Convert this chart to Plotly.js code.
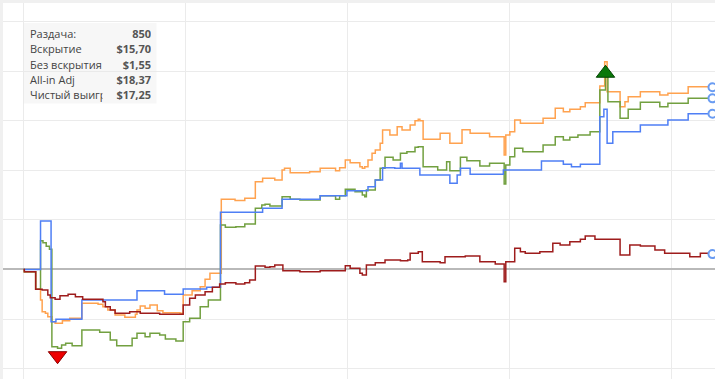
<!DOCTYPE html>
<html><head><meta charset="utf-8">
<script src="https://cdn.plot.ly/plotly-3.0.1.min.js"></script>
<style>html,body{margin:0;padding:0;background:#fff;overflow:hidden}#chart{width:715px;height:379px}</style>
</head><body><div id="chart"></div>
<script>
// ---- data (hand number, cumulative $) ----
const allinHands = [0,1,15,21,23,27,30,35,39,48,57,72,92,98,104,113,125,138,140,144,150,156,165,172,193,197,208,218,224,230,244,261,273,286,295,310,319,322,329,353,366,385,390,397,403,415,418,421,425,430,434,440,443,452,461,467,477,483,487,489,493,514,526,541,551,575,593,595,600,606,613,641,656,666,674,687,693,711,717,720,736,742,746,761,785,795,820,850];
const allinValues = [0,-0.22,-2.0,-3.07,-4.25,-4.42,-4.76,-5.26,-5.42,-5.16,-4.92,-3.41,-3.51,-3.75,-4.08,-4.59,-4.82,-4.52,-4.08,-3.68,-3.91,-3.58,-4.15,-4.35,-4.42,-2.57,-2.14,-1.73,-0.99,-0.38,7.08,6.94,7.18,8.85,9.19,9.02,10.03,10.20,9.76,9.86,10.20,9.96,10.26,11.04,10.77,10.36,10.20,10.36,11.04,11.71,12.05,12.72,14.06,13.56,14.39,14.06,14.57,15.00,15.14,15.00,13.13,13.73,12.72,14.08,13.73,13.39,11.54,13.56,13.89,15.07,14.74,15.24,16.25,15.91,16.15,16.41,16.81,18.50,20.95,17.92,16.41,16.91,17.42,17.92,17.59,17.76,18.43,18.37];

const netHands = [0,1,15,21,24,28,32,35,42,47,52,60,72,94,107,115,134,140,150,156,168,175,188,197,205,218,228,243,249,262,273,286,294,298,304,319,329,341,366,385,390,397,409,418,421,423,434,440,446,456,465,473,483,487,493,511,522,526,539,547,563,575,593,595,600,606,616,641,656,666,674,684,699,711,718,721,736,746,761,785,795,820,850];
const netValues = [0,-0.22,-2.0,2.90,2.70,2.35,2.04,-7.78,-7.94,-7.61,-7.44,-7.68,-6.10,-6.33,-7.11,-7.68,-6.94,-6.43,-6.77,-6.43,-6.60,-7.01,-7.21,-5.26,-4.92,-3.75,-3.07,4.49,4.25,4.31,4.59,6.17,6.50,6.57,6.40,7.34,7.08,7.01,7.44,7.08,7.44,8.08,7.84,7.51,7.34,8.01,9.02,10.20,11.31,11.04,11.71,11.87,12.32,12.38,10.36,10.03,10.87,9.96,11.31,10.97,10.43,10.70,8.62,10.53,11.37,12.22,11.87,12.55,13.39,13.05,13.33,13.56,13.89,18.09,19.43,16.91,15.24,16.15,16.85,16.41,16.75,17.25,17.25];

const sdHands = [0,20,21,34,40,72,140,174,197,226,243,295,319,366,399,425,434,443,458,465,467,489,526,535,539,551,592,639,666,676,687,711,716,720,727,761,795,820,850];
const sdValues = [0,0,4.89,-5.26,-5.02,-3.07,-2.14,-2.50,-1.97,-1.79,5.77,6.17,7.08,7.44,7.94,8.35,9.02,10.26,10.20,10.70,10.20,9.53,8.69,9.53,10.20,9.60,10.03,10.94,10.60,10.36,10.60,15.40,16.15,12.72,13.89,14.57,15.07,15.70,15.70];

const nsdHands = [0,1,15,23,30,33,39,45,55,64,73,98,101,107,113,131,144,168,197,205,212,224,233,242,249,262,273,279,286,298,304,310,320,341,366,397,403,415,418,423,434,446,465,474,477,487,492,514,520,545,563,582,593,595,606,613,619,637,653,662,674,687,693,705,723,736,748,761,779,791,822,835,850];
const nsdValues = [0,-0.22,-2.0,-2.07,-2.57,-2.84,-3.0,-2.64,-2.50,-2.74,-3.0,-3.25,-3.75,-4.08,-4.42,-4.25,-4.42,-4.52,-3.58,-2.90,-2.57,-2.24,-1.79,-1.46,-1.33,-1.46,-1.33,-1.06,0.35,0.22,0.28,0.45,-0.12,-0.22,-0.12,0.38,0.12,-0.38,-0.55,0.45,0.69,0.96,0.89,0.96,1.63,1.79,0.79,0.69,1.29,1.36,0.79,0.55,-1.23,0.79,2.14,1.79,1.63,1.79,2.64,2.47,2.80,3.04,3.38,3.04,3.04,1.46,2.47,2.37,1.97,1.63,1.29,1.63,1.55];

const statLabels = ["Раздача:", "Вскрытие", "Без вскрытия", "All-in Adj", "Чистый выигрыш"];
const statValues = ["850", "$15,70", "$1,55", "$18,37", "$17,25"];

// ---- drawing ----
const W = 715, H = 379, ML = 3, MT = 3;
const PW = W - ML, PH = H - MT;
const px = p => (p - ML) / PW;          // pixel x -> paper
const py = p => (H - p) / PH;           // pixel y -> paper

function line(x, y, color) {
  return {x, y, type: 'scatter', mode: 'lines', line: {color, width: 1.5, shape: 'hv'}, hoverinfo: 'skip'};
}
const traces = [
  line(allinHands, allinValues, '#ffa24f'),
  line(netHands, netValues, '#72a040'),
  line(sdHands, sdValues, '#4f7ff5'),
  line(nsdHands, nsdValues, '#9e1c1c')
];

// end markers
const series = [[allinHands, allinValues],[netHands, netValues],[sdHands, sdValues],[nsdHands, nsdValues]];
traces.push({
  x: series.map(s => s[0][s[0].length-1]),
  y: series.map(s => s[1][s[1].length-1]),
  type: 'scatter', mode: 'markers', cliponaxis: false, hoverinfo: 'skip',
  marker: {symbol: 'circle', size: 8, color: '#ffffff', line: {color: '#6a9cf2', width: 2}}
});

// min / max of net result
let iMin = 0, iMax = 0;
netValues.forEach((v, i) => { if (v < netValues[iMin]) iMin = i; if (v > netValues[iMax]) iMax = i; });
const DOWN_GAP = 0.75, UP_GAP = 0.35;
traces.push({
  x: [netHands[iMin]], y: [netValues[iMin] - DOWN_GAP], type: 'scatter', mode: 'markers', cliponaxis: false, hoverinfo: 'skip',
  marker: {symbol: 'triangle-down', size: 16, color: '#ee0000', line: {color: '#8a0000', width: 1}}
});
traces.push({
  x: [netHands[iMax]], y: [netValues[iMax] + UP_GAP], type: 'scatter', mode: 'markers', cliponaxis: false, hoverinfo: 'skip',
  marker: {symbol: 'triangle-up', size: 16, color: '#0a780a', line: {color: '#044404', width: 1}}
});

// stats box
const rowY = [33.5, 48.8, 64.1, 79.4, 94.7];
const annotations = [];
statLabels.forEach((t, i) => annotations.push({
  xref: 'paper', yref: 'paper', x: px(28), y: py(rowY[i]), xanchor: 'left', yanchor: 'middle',
  text: t, showarrow: false, font: {family: 'Open Sans, Noto Sans, sans-serif', size: 11, color: '#444'}
}));
statValues.forEach((t, i) => annotations.push({
  xref: 'paper', yref: 'paper', x: px(152), y: py(rowY[i]), xanchor: 'right', yanchor: 'middle', align: 'right',
  text: '<b>' + t + '</b>', showarrow: false, width: 48, borderpad: 0,
  bgcolor: i === statValues.length - 1 ? '#f7f7f7' : 'rgba(0,0,0,0)',
  font: {family: 'Open Sans, Noto Sans, sans-serif', size: 11, color: '#555'}
}));

const layout = {
  width: W, height: H,
  margin: {l: ML, t: MT, r: 0, b: 0, pad: 0},
  paper_bgcolor: '#f0f0f0', plot_bgcolor: '#ffffff',
  showlegend: false,
  xaxis: {range: [-25.3, 853.1], tick0: 0, dtick: 200, showticklabels: false, ticks: '',
          showgrid: true, gridcolor: '#ebebeb', gridwidth: 1, zeroline: false, showline: false, fixedrange: true},
  yaxis: {range: [-11.04, 26.86], tick0: 0, dtick: 5, showticklabels: false, ticks: '',
          showgrid: true, gridcolor: '#ebebeb', gridwidth: 1, zeroline: true, zerolinecolor: '#b9b9b9', zerolinewidth: 2,
          showline: false, fixedrange: true},
  shapes: [{type: 'rect', xref: 'paper', yref: 'paper', x0: px(23), x1: px(156.5), y0: py(103.5), y1: py(23),
            fillcolor: 'rgba(232,232,232,0.35)', line: {width: 0}, layer: 'above'}],
  annotations
};
Plotly.newPlot('chart', traces, layout, {staticPlot: true, displayModeBar: false});
</script></body></html>
